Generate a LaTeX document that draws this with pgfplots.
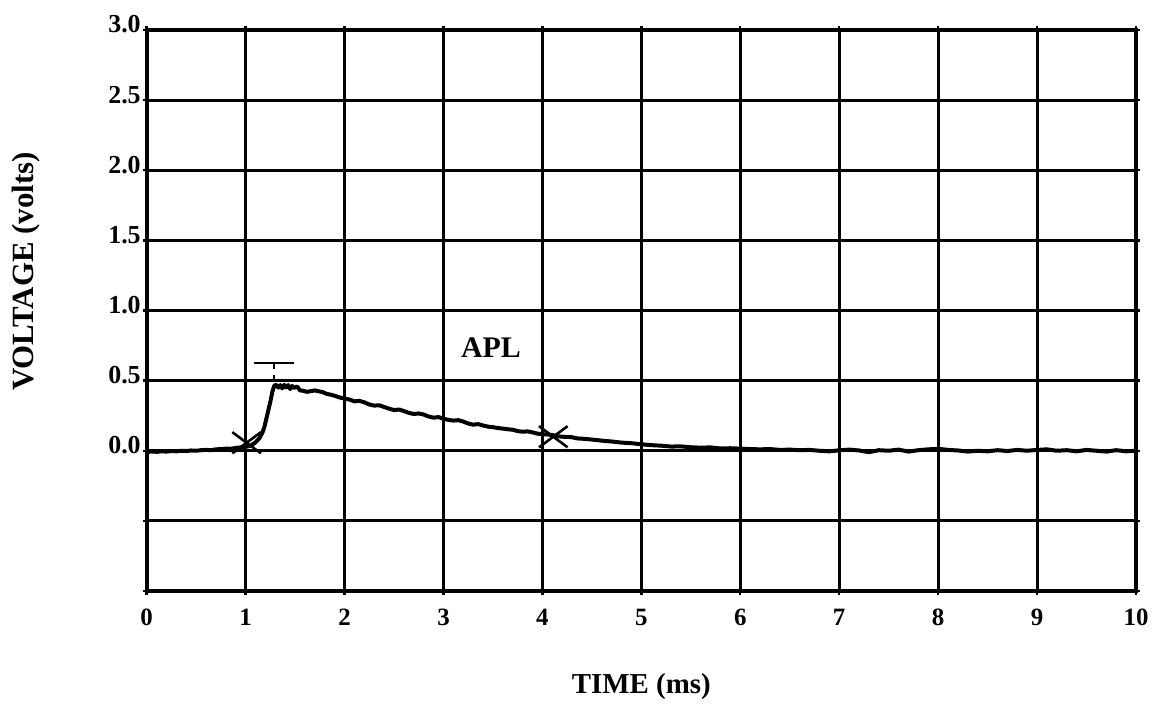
\documentclass[border=0pt]{standalone}
\usepackage{fontspec}
\setmainfont{Liberation Serif}
\usepackage{pgfplots}
\pgfplotsset{compat=1.18}
\begin{document}
\begin{tikzpicture}
\begin{axis}[
  scale only axis,
  width=494.65bp, height=280.5bp,
  xmin=0, xmax=10, ymin=-1, ymax=3,
  xtick={0,1,...,10},
  xticklabels={0,1,2,3,4,5,6,7,8,9,10},
  ytick={-1,-0.5,0,0.5,1,1.5,2,2.5,3},
  yticklabels={,,0.0,0.5,1.0,1.5,2.0,2.5,3.0},
  grid=major,
  major grid style={black, line width=1.5bp},
  axis line style={black, line width=2bp},
  tick align=outside,
  major tick length=2bp,
  tick style={black, line width=1.2bp},
  xticklabel style={font=\fontsize{12.5}{14}\selectfont\bfseries, anchor=north, inner sep=0pt, yshift=-7bp},
  yticklabel style={font=\fontsize{13}{15}\selectfont\bfseries, anchor=base east, inner sep=0pt, xshift=-0.8bp, yshift=-1.5bp},
  xlabel={TIME (ms)},
  ylabel={VOLTAGE (volts)},
  xlabel style={font=\fontsize{14.5}{16}\selectfont\bfseries, at={(axis description cs:0.5,-0.1824)}, anchor=base},
  ylabel style={font=\fontsize{15.5}{17}\selectfont\bfseries, at={(axis description cs:-0.1215,0.5695)}, anchor=center, rotate=0},
  clip=false,
]
\addplot[black, line width=2bp, line join=round] coordinates {
(0.00,-0.010) (0.05,-0.005) (0.10,-0.008) (0.15,-0.004) (0.20,-0.006) (0.25,-0.002)
(0.30,-0.004) (0.35,0.000) (0.40,-0.002) (0.45,0.002) (0.50,0.000) (0.55,0.004)
(0.60,0.006) (0.65,0.004) (0.70,0.010) (0.75,0.012) (0.80,0.015) (0.85,0.014)
(0.90,0.020) (0.95,0.024) (1.00,0.028) (1.05,0.035) (1.10,0.060) (1.14,0.090)
(1.17,0.130) (1.19,0.170) (1.21,0.230) (1.23,0.290) (1.25,0.350) (1.27,0.420)
(1.29,0.465) (1.31,0.470) (1.33,0.450) (1.35,0.468) (1.37,0.445) (1.39,0.470)
(1.41,0.452) (1.43,0.468) (1.45,0.440) (1.47,0.462) (1.49,0.448) (1.52,0.458)
(1.55,0.430) (1.58,0.428) (1.62,0.420) (1.66,0.425) (1.70,0.430) (1.74,0.424)
(1.78,0.418) (1.82,0.405) (1.86,0.400) (1.90,0.392) (1.95,0.380) (2.00,0.372)
(2.05,0.365) (2.10,0.352) (2.15,0.356) (2.20,0.345) (2.25,0.330) (2.30,0.322)
(2.35,0.324) (2.40,0.312) (2.45,0.300) (2.50,0.290) (2.55,0.294) (2.60,0.283)
(2.65,0.270) (2.70,0.262) (2.75,0.266) (2.80,0.258) (2.85,0.244) (2.90,0.236)
(2.95,0.240) (3.00,0.228) (3.05,0.220) (3.10,0.215) (3.15,0.218) (3.20,0.208)
(3.25,0.194) (3.30,0.186) (3.35,0.190) (3.40,0.180) (3.45,0.172) (3.50,0.168)
(3.55,0.162) (3.60,0.158) (3.65,0.153) (3.70,0.150) (3.75,0.140) (3.80,0.136)
(3.85,0.138) (3.90,0.131) (3.95,0.122) (4.00,0.118) (4.05,0.116) (4.10,0.112)
(4.15,0.104) (4.20,0.100) (4.25,0.099) (4.30,0.096) (4.35,0.088) (4.40,0.086)
(4.50,0.080) (4.60,0.072) (4.70,0.066) (4.80,0.058) (4.90,0.054) (5.00,0.046)
(5.10,0.040) (5.20,0.036) (5.30,0.030) (5.40,0.031) (5.50,0.025) (5.60,0.022)
(5.70,0.024) (5.80,0.016) (5.90,0.018) (6.00,0.015) (6.10,0.012) (6.20,0.010)
(6.30,0.012) (6.40,0.006) (6.50,0.008) (6.60,0.004) (6.70,0.006) (6.80,0.000)
(6.90,-0.004) (7.00,0.003) (7.10,0.008) (7.20,0.002) (7.30,-0.010) (7.40,0.004)
(7.50,0.000) (7.60,0.008) (7.70,-0.006) (7.80,0.004) (7.90,0.010) (8.00,0.014)
(8.10,0.006) (8.20,0.002) (8.30,-0.006) (8.40,0.000) (8.50,-0.004) (8.60,0.004)
(8.70,-0.002) (8.80,0.006) (8.90,0.000) (9.00,0.006) (9.10,0.010) (9.20,0.000)
(9.30,0.004) (9.40,-0.004) (9.50,0.006) (9.60,0.000) (9.70,-0.006) (9.80,0.004)
(9.90,-0.004) (10.00,0.000)
};
\addplot[only marks, mark=x, mark size=7.5bp, mark options={black, line width=1.3bp, xscale=1.35}] coordinates {(1.01,0.057) (4.11,0.100)};
\addplot[black, line width=1.3bp] coordinates {(1.08,0.626) (1.49,0.626)};
\addplot[black, line width=1bp, dashed] coordinates {(1.29,0.626) (1.29,0.480)};
\node[anchor=base, font=\fontsize{15}{17}\selectfont\bfseries] at (axis cs:3.48,0.663) {APL};
\end{axis}
\pgfresetboundingbox
\useasboundingbox (-73.35bp,-63bp) rectangle (505.15bp,295.5bp);
\end{tikzpicture}
\end{document}
